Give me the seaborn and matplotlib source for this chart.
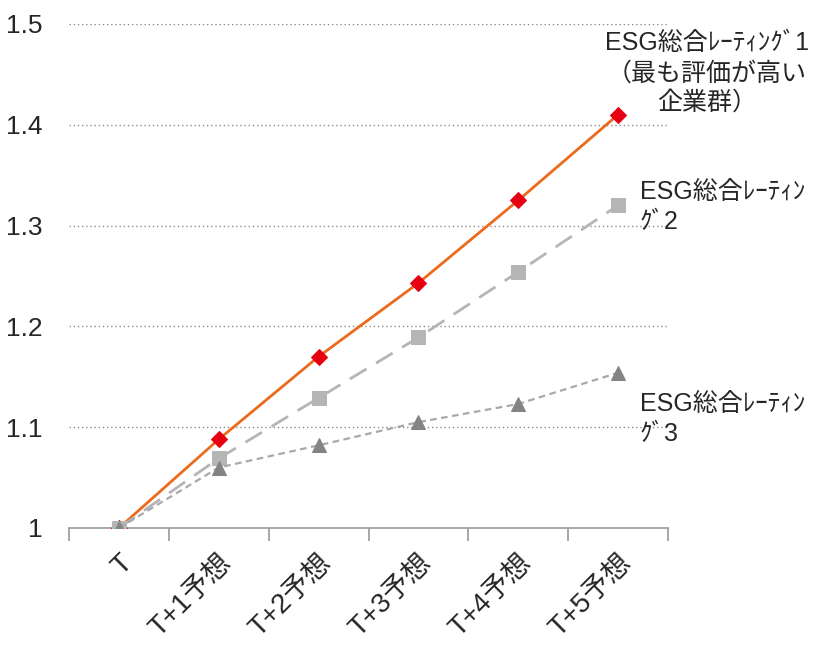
import matplotlib
matplotlib.use("Agg")
import matplotlib.pyplot as plt
import seaborn as sns
import pandas as pd
from matplotlib.ticker import FixedLocator, NullFormatter

# Periods and forecast index per ESG rating group
periods = ["T", "T+1予想", "T+2予想", "T+3予想", "T+4予想", "T+5予想"]
rating1 = [1.0, 1.088, 1.170, 1.243, 1.325, 1.410]
rating2 = [1.0, 1.069, 1.129, 1.189, 1.254, 1.320]
rating3 = [1.0, 1.060, 1.082, 1.105, 1.123, 1.154]
yticks = [1.0, 1.1, 1.2, 1.3, 1.4, 1.5]
ytick_labels = ["1", "1.1", "1.2", "1.3", "1.4", "1.5"]

sns.set_theme(style="white")
plt.rcParams["font.family"] = ["Liberation Sans", "Noto Sans CJK JP", "DejaVu Sans"]

df = pd.DataFrame({"pos": range(len(periods)), "r1": rating1, "r2": rating2, "r3": rating3})

fig = plt.figure(figsize=(8.22, 6.45), dpi=100)
ax = fig.add_axes([0.084, 0.1814, 0.7287, 0.7816])

sns.lineplot(data=df, x="pos", y="r1", ax=ax, color="#ec6a1c", linewidth=2.0,
             marker="D", markersize=8, markerfacecolor="#e60012",
             markeredgecolor="#e60012", zorder=3)
sns.lineplot(data=df, x="pos", y="r2", ax=ax, color="#b5b5b5", linewidth=2.0,
             linestyle=(0, (7, 4)), marker="s", markersize=10,
             markerfacecolor="#b5b5b5", markeredgecolor="#b5b5b5", zorder=4)
sns.lineplot(data=df, x="pos", y="r3", ax=ax, color="#a9a9a9", linewidth=1.6,
             linestyle=(0, (3, 2)), marker="^", markersize=10,
             markerfacecolor="#848484", markeredgecolor="#848484", zorder=5)

ax.set_xlim(-0.5, len(periods) - 0.5)
ax.set_ylim(1.0, 1.5)
ax.set_xlabel("")
ax.set_ylabel("")

# Category boundaries carry the tick marks, labels sit at category centres
ax.xaxis.set_major_locator(FixedLocator([i - 0.5 for i in range(len(periods) + 1)]))
ax.xaxis.set_major_formatter(NullFormatter())
ax.xaxis.set_minor_locator(FixedLocator(list(range(len(periods)))))
ax.set_xticklabels(periods, minor=True, rotation=45, ha="right",
                   rotation_mode="anchor", fontsize=20)
ax.tick_params(axis="x", which="major", length=9, width=1.3, color="#a0a0a0",
               direction="out", bottom=True)
ax.tick_params(axis="x", which="minor", length=0, pad=16)

ax.set_yticks(yticks)
ax.set_yticklabels(ytick_labels, fontsize=19)
ax.tick_params(axis="y", length=0, pad=19)

for y in yticks[1:]:
    ax.axhline(y, color="#8c8c8c", linewidth=1.0, linestyle=(0, (1, 2)), zorder=1)

for side in ["top", "right", "left"]:
    ax.spines[side].set_visible(False)
ax.spines["bottom"].set_color("#a0a0a0")
ax.spines["bottom"].set_linewidth(1.3)

ax.text(1.065, 0.985, "ESG総合ﾚｰﾃｨﾝｸﾞ1\n（最も評価が高い\n企業群）", transform=ax.transAxes,
        ha="center", va="top", fontsize=18, multialignment="center",
        linespacing=1.3, clip_on=False)
ax.text(0.953, 0.69, "ESG総合ﾚｰﾃｨﾝ\nｸﾞ2", transform=ax.transAxes,
        ha="left", va="top", fontsize=18, linespacing=1.3, clip_on=False)
ax.text(0.953, 0.27, "ESG総合ﾚｰﾃｨﾝ\nｸﾞ3", transform=ax.transAxes,
        ha="left", va="top", fontsize=18, linespacing=1.3, clip_on=False)

fig.savefig("out.png", dpi=100)
